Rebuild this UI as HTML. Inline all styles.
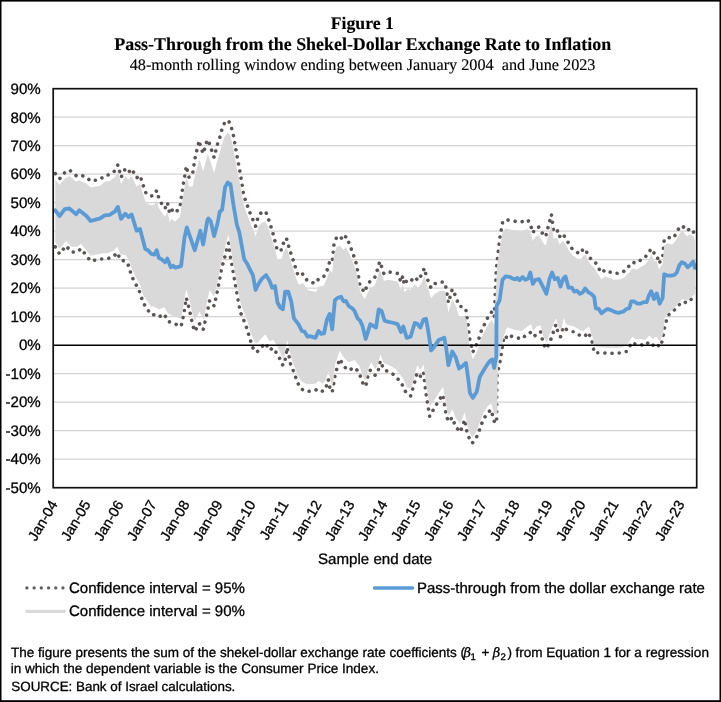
<!DOCTYPE html>
<html lang="en">
<head>
<meta charset="utf-8">
<title>Figure 1 - Pass-Through from the Shekel-Dollar Exchange Rate to Inflation</title>
<style>
html,body{margin:0;padding:0;background:#fff;}
body{width:721px;height:702px;overflow:hidden;}
svg{display:block;will-change:transform;text-rendering:geometricPrecision;}
text{stroke:#000;stroke-width:0.3px;stroke-linejoin:round;}
.ttl text{stroke-width:0.14px;}
</style>
</head>
<body>
<svg width="721" height="702" viewBox="0 0 721 702">
<rect x="0" y="0" width="721" height="702" fill="#fff"/>
<line x1="53.2" x2="696.7" y1="459.2" y2="459.2" stroke="#d4d4d4" stroke-width="1.25"/>
<line x1="53.2" x2="696.7" y1="430.7" y2="430.7" stroke="#d4d4d4" stroke-width="1.25"/>
<line x1="53.2" x2="696.7" y1="402.2" y2="402.2" stroke="#d4d4d4" stroke-width="1.25"/>
<line x1="53.2" x2="696.7" y1="373.7" y2="373.7" stroke="#d4d4d4" stroke-width="1.25"/>
<line x1="53.2" x2="696.7" y1="316.7" y2="316.7" stroke="#d4d4d4" stroke-width="1.25"/>
<line x1="53.2" x2="696.7" y1="288.2" y2="288.2" stroke="#d4d4d4" stroke-width="1.25"/>
<line x1="53.2" x2="696.7" y1="259.7" y2="259.7" stroke="#d4d4d4" stroke-width="1.25"/>
<line x1="53.2" x2="696.7" y1="231.2" y2="231.2" stroke="#d4d4d4" stroke-width="1.25"/>
<line x1="53.2" x2="696.7" y1="202.7" y2="202.7" stroke="#d4d4d4" stroke-width="1.25"/>
<line x1="53.2" x2="696.7" y1="174.2" y2="174.2" stroke="#d4d4d4" stroke-width="1.25"/>
<line x1="53.2" x2="696.7" y1="145.7" y2="145.7" stroke="#d4d4d4" stroke-width="1.25"/>
<line x1="53.2" x2="696.7" y1="117.2" y2="117.2" stroke="#d4d4d4" stroke-width="1.25"/>
<path d="M55.3 173.7 L59.6 178.8 L64.8 172.5 L69.4 169.9 L76.2 175.6 L79.2 174.5 L86.5 177.2 L90.6 181.1 L100.1 179.5 L104.7 175.4 L109.7 174.7 L115 170.7 L117.9 164.8 L121.1 177.4 L125.2 169 L128.6 172.4 L131.6 168.8 L136.6 177.9 L140 175.5 L145.3 192.1 L148 195.1 L151.4 196 L154.4 195.1 L156.7 190.5 L158.9 198.5 L161.7 203.7 L165.1 208.5 L167.4 202.5 L169.7 213.6 L170.8 211.4 L171.9 209.9 L173.1 211.3 L174.9 213 L179.9 207.8 L181.1 198.8 L183.3 184.3 L184.5 177.8 L186.3 166 L189 177.3 L192.5 174.5 L194.7 160.1 L195.9 154.3 L199.3 140.5 L200.4 146 L203.2 153.7 L207.3 139.7 L208.4 140.5 L210.7 147.5 L214.1 157.5 L217.5 144.1 L219.8 137.5 L221 133 L222.1 128.5 L224.4 123.3 L227.8 120.1 L230.5 123.9 L233.5 135.8 L236.9 155.4 L239.2 167.8 L240.3 173.3 L241.5 180.7 L243.7 195.4 L247.2 205 L249.9 212.6 L252.9 219.7 L255.6 226.2 L258.6 215.2 L262 212.1 L265.4 211.3 L267.7 216.3 L269.5 222.3 L271.1 227.2 L272.2 230.7 L274.5 239.1 L277.5 251 L280.2 250 L281.4 249.9 L282.9 244 L285.2 240.9 L286.4 238.1 L288.2 244.8 L289.3 248.3 L291.2 254.3 L292.7 258.8 L293.9 261.9 L296.2 270.4 L298.4 276 L301.9 274.6 L303 274 L304.6 276.7 L307.6 281.1 L309.8 281.9 L315.5 283.4 L318.5 279.1 L321.2 277.3 L323.5 277.1 L326.9 270.8 L329.7 261.8 L332.2 262.7 L334 244.1 L334.9 242.8 L336.7 236.8 L337.6 236.7 L339.9 236.2 L341.1 237.8 L343.6 240.3 L345.9 236.3 L348.6 242.1 L349.7 244.7 L352 250.8 L353.1 253.7 L354.3 257.6 L356.6 264.7 L357.7 271.4 L360 285.5 L362.3 289.3 L364.6 292.4 L365.7 288.8 L370.3 280.7 L374.8 277.5 L376 273.2 L377.8 268.8 L378.7 265.8 L379.6 261.5 L381.7 266.9 L383.9 273.7 L388.5 271.7 L391.9 272.6 L393 272.9 L397.6 273.4 L401 281.9 L402.8 276 L404.4 285 L406.7 280.9 L407.9 279.6 L410.6 281.1 L414.7 276.9 L417 279.5 L418.1 280.6 L420.4 276.5 L421.5 275.3 L423.4 270.8 L424.3 268.1 L426.1 275.4 L427.2 278.6 L428.4 281.5 L431.1 288 L434.1 284.7 L435.2 283.5 L438.6 282.5 L439.8 281.9 L444.3 282.2 L446.2 288.4 L448.4 302.8 L452.3 289.1 L455.7 296.2 L459.1 306.2 L462.6 306.7 L463.7 306.9 L466 310.4 L468.3 326.4 L469.4 337.6 L472.8 352.2 L476.7 344.1 L479.7 336.3 L480.8 332.1 L483.1 327.4 L484.2 325 L486.5 320.3 L487.6 317.9 L489.9 314.7 L491.7 312 L494.2 317.2 L496.3 269.1 L499.6 239.3 L502.5 222.8 L505.5 219.4 L509.4 220.4 L510.5 220.6 L512.8 220.9 L515.5 221.4 L517.4 221.8 L519.6 221.4 L521.9 221.8 L525.3 220.3 L527.6 219.7 L530.3 224 L532.8 232.9 L535.6 228.2 L539 227 L540 229.4 L543.4 234.9 L545.7 236.7 L548.7 224.9 L549.6 221.7 L551.4 214.4 L553.7 231.6 L554.8 230.6 L557.1 229.9 L559.4 237.1 L560.5 235.1 L562.8 233.6 L565.5 238.1 L568.5 243 L571.9 248.4 L574.2 249.7 L576.5 251.9 L579.9 254 L582.8 249.6 L585.1 248.6 L588.3 255.7 L591.3 259.5 L594.2 262.4 L595.8 263.1 L598.1 267.5 L601.5 272.9 L605 269.9 L607.9 271.3 L611.8 272.8 L614.1 273.7 L615.2 273.5 L618.6 273.1 L620.9 273.1 L623.2 271.7 L624.3 271.2 L626.6 268.8 L628.9 266.2 L631.2 263.9 L632.3 262.1 L633.9 262.6 L636.9 263.1 L640.3 260.3 L643.7 258.6 L644.8 257.9 L646.7 255 L648.3 253.3 L651.2 248.7 L654 253 L656.7 254.1 L659 263.5 L662.6 257.3 L664.2 240.2 L667.6 237.2 L671.1 238.2 L672.2 238.6 L674.5 236 L675.6 234.8 L676.8 232.3 L679 228.1 L681.8 225.6 L684.7 228 L687 230.8 L690.4 228.3 L693.2 231.2 L694.9 235.9" fill="none" stroke="#5c5555" stroke-width="3.6" stroke-linecap="round" stroke-linejoin="round" stroke-dasharray="0.01 7.2"/>
<path d="M55.3 246.9 L59.6 254 L64.8 247.4 L66 245.8 L69.4 249.8 L71.7 252.2 L76.2 251.6 L77.4 251.8 L79.2 250.4 L80.8 248.6 L86.5 255.8 L90.6 261.1 L95.6 260 L100.1 259.1 L101.3 259 L104.7 258.9 L108.1 258.6 L109.7 257.8 L113.8 256.4 L115 255 L117.2 252.5 L120.7 260.3 L125.2 260.9 L128.6 265.6 L131.6 276.2 L136.6 285.8 L140 292.6 L143.4 303.8 L145.3 305.5 L146.9 307.9 L148 310 L150.3 314 L151.4 314.1 L154.4 314.9 L156.7 316.7 L158.9 316.8 L161.7 315.6 L164 314 L165.1 315.8 L167.4 320.3 L168.5 321.8 L170.8 322 L173.1 323.3 L174.2 323.7 L175.4 324 L181.1 326.4 L183.3 316.1 L184.5 309.5 L186.3 297.8 L189.5 310 L192.5 324.5 L194.7 331.4 L199.3 323.2 L200.4 326.1 L203.2 329.6 L207.3 312.2 L208.4 306.6 L209.6 300.5 L210.7 302.2 L214.1 305.9 L217.5 290.7 L219.8 278.5 L221 271.7 L222.1 266.6 L224.4 258.7 L227.8 244.5 L228.7 243.1 L230.5 257.3 L233.5 273.8 L236.9 293.1 L239.2 306.1 L240.3 312.2 L241.5 314.7 L243.7 319.8 L247.2 329.3 L249.9 338.9 L252.9 347.7 L254 350.2 L255.6 350.3 L257 352 L258.6 350.3 L260.8 347.8 L262 346.7 L265.4 343.2 L269.5 350.3 L272.2 348.3 L273.4 348.1 L275 351.3 L276.8 353 L280.2 359.4 L281.4 361.9 L282.9 365.4 L285.2 359.3 L287.1 347.4 L288.2 352.6 L289.3 357.3 L290.7 365 L293.9 372 L297.5 382.5 L298.4 384.2 L301 388.9 L301.9 389.2 L304.6 391 L305.5 391.4 L307.6 391.1 L309.8 391.4 L311.2 391.4 L315.5 390.2 L318.5 388.8 L321.2 390.2 L322.6 391.3 L324 389.6 L325.6 388.6 L326.9 384.3 L328.3 379.5 L329.7 387 L330.6 390.8 L332.2 392.1 L334.9 376.4 L337.6 365.8 L339.7 358.8 L341.1 361.5 L343.6 365.6 L345.9 368.3 L348.6 370.4 L352 368.8 L354.3 367.4 L357.7 370.7 L359.1 372.5 L360 375.2 L362.3 381.8 L363.6 385.2 L365.7 386.4 L368.2 374.7 L370.3 370.2 L375 375.3 L376 374.2 L377.3 374 L378.7 368.6 L380.3 360.8 L381.7 364.4 L384.1 369.9 L388.5 371.5 L389.8 372.1 L391.9 373.5 L395.5 375.8 L397.6 378.7 L400.1 381.4 L401 382.5 L403.3 386.9 L406.7 394.1 L410.6 395.9 L414.7 382.2 L417 372.8 L420.4 376.2 L423.4 371.6 L426.1 394.2 L428.4 408.4 L429.7 416.4 L431.1 412.9 L433.1 410.2 L434.1 408.5 L436.6 404.3 L438.6 401.2 L441.1 397.1 L443.2 394.6 L444.3 403.2 L446.2 415.4 L448.4 421.6 L452.3 417.5 L455.7 427.1 L459.1 430.3 L460.3 432.1 L462.6 425.8 L464.8 419.6 L466 426.9 L467.1 432.9 L468.3 435.9 L469.4 438.6 L472.1 443.2 L476.2 438.1 L479.7 429.4 L483.1 419.8 L486.5 414.7 L487.6 413 L489.9 410.8 L491.1 409.6 L492.2 414 L494.4 422 L496.7 423 L496.8 392 L497.2 374 L499.2 365.6 L500.6 358.5 L501.6 351.4 L502.6 345 L503.8 338 L505.5 339.7 L507.2 334.8 L509.4 335.6 L512.8 336.7 L515.1 337.5 L517.4 338.1 L519.6 338.2 L521.9 339 L525.3 335.6 L527.6 333.6 L530.3 332.5 L532.8 336.6 L535.6 335.3 L536.7 333.5 L539 332.8 L540.6 331.8 L543.4 344.1 L546.4 348.9 L549.6 342.8 L552.1 336 L554.8 327.5 L556 324.5 L557.8 331.9 L560.5 336.8 L563.2 326.8 L565.5 329 L568.5 330.6 L569.6 331 L571.9 331.7 L574.2 331.7 L576.9 333.8 L579.9 335.3 L582.8 336.7 L585.1 335.8 L588.3 332.3 L591.3 339.2 L592.4 343 L594.2 352.4 L595.8 351.9 L597 352.8 L598.8 352.8 L601.5 352.4 L605 353 L607.9 353.5 L611.8 353.3 L615.2 353 L618.6 352.9 L619.8 353 L623.2 352 L626.6 351.4 L629.3 346.5 L631.2 344.1 L632.3 342.1 L633.9 343.3 L635.7 344.5 L637.5 344.3 L640.3 344.3 L643.7 345.6 L644.8 345.9 L646.7 343.8 L648.9 342.1 L651.2 344.4 L652.8 345.5 L654 344.1 L656.2 343.1 L659.7 347 L662.6 340.2 L664.2 328.7 L667.6 316.1 L668.8 314.6 L671.1 312.9 L673.3 311.2 L674.5 309.8 L676.8 307.2 L677.9 306 L679.5 304.4 L681.8 301.9 L684.7 302.1 L687 303 L690.4 299.9 L691.6 298.9 L693.2 297.5 L694.9 295.5" fill="none" stroke="#5c5555" stroke-width="3.6" stroke-linecap="round" stroke-linejoin="round" stroke-dasharray="0.01 7.2"/>
<path d="M55.3 179.5 L59.6 184.8 L64.8 178.4 L69.4 176.1 L76.2 181.8 L79.2 180.2 L86.5 183.4 L90.6 187.5 L100.1 185.7 L104.7 181.8 L109.7 181.1 L115 177.2 L117.9 171.5 L121.1 184.1 L125.2 176.1 L128.6 179.5 L131.6 176.1 L136.6 186.4 L140 184.1 L145.3 201.2 L148 203.9 L151.4 205.3 L154.4 204.6 L156.7 200 L158.9 208 L161.7 212.6 L165.1 217.1 L167.4 211.4 L169.7 221.7 L171.9 218.9 L174.9 221.7 L179.9 217.1 L183.3 194.3 L186.3 176.1 L189 186.4 L192.5 186.4 L195.9 171.5 L199.3 159 L203.2 171.5 L207.3 155.6 L207.7 154 L210.7 162 L214.1 172.9 L217.5 159.7 L221 148.3 L224.4 136.9 L227.8 132.4 L230.5 135.8 L233.5 149.4 L236.9 168.8 L240.3 184.8 L243.7 205.3 L247.2 214.4 L250.6 223.5 L253.3 229.6 L255.6 236.4 L258.6 226.1 L262 222.7 L265.4 221.6 L267.7 226.1 L271.1 236.4 L274.5 246.7 L277.5 259.2 L281.4 259.2 L283.6 252.4 L286.4 246.7 L289.3 255.8 L292.7 267.2 L296.2 278.6 L298.9 284.7 L303 283.1 L307.6 290 L316 292.2 L319 286.5 L323.5 286.1 L326.9 278.6 L329.9 269.4 L332.2 273.3 L334 254.6 L336.7 246.7 L339.9 246 L343.6 250.1 L345.9 246.7 L349.7 254.6 L353.1 262.6 L356.6 272.9 L360 291.1 L364.6 299.1 L370.3 287.7 L374.8 285.4 L377.8 276.3 L379.6 269.2 L381.7 274 L383.9 280.8 L388.5 279.7 L393 280.8 L397.6 281.5 L401 290 L402.8 284.3 L404.4 292.2 L407.9 288.8 L410.6 290 L414.7 284.3 L418.1 287.7 L421.5 283.1 L424.3 276.3 L427.2 286.1 L431.1 297.9 L435.2 293.4 L439.8 291.1 L444.8 291.1 L446.6 300.2 L448.4 312.7 L452.3 299.1 L455.7 305.9 L459.1 316.2 L463.7 316.2 L466.7 319.6 L469.4 345.8 L472.8 359.5 L477.4 350.4 L480.8 339 L484.2 332.1 L487.6 325.3 L491.7 319.6 L494.2 325.3 L497.1 266.5 L499.6 249 L502.5 231.9 L505.5 228.5 L510.5 229.6 L516.2 230.8 L521.9 230.8 L527.6 229.2 L530.6 231.9 L532.8 241 L535.6 236.5 L539 235.3 L540 237.6 L543.4 243.3 L545.7 245.6 L548.7 234.2 L551.4 223.9 L553.7 238.7 L557.1 237.6 L559.4 244.4 L562.8 241 L565.8 244.4 L568.5 250.1 L571.9 254.7 L576.5 258.1 L579.9 260.4 L583.3 255.8 L585.6 254.7 L588.3 261.5 L591.3 265 L594.7 268.4 L598.1 274.1 L601.5 279.3 L605 276.4 L608.4 277.5 L614.1 279.8 L620.9 279.3 L624.3 277.5 L628.9 272.9 L632.3 268.4 L636.9 269.5 L640.3 267.2 L644.8 265 L648.3 260.4 L651.7 254.7 L654.4 261.5 L656.7 260.4 L659 269.5 L662.6 263.8 L664.2 245.6 L667.6 243.3 L672.2 244.4 L675.6 241 L679 234.2 L682.5 230.8 L687 236.5 L690.4 234.2 L693.8 236.5 L694.9 241 L694.9 293.9 L691.6 296.9 L687 301 L682.5 298.9 L677.9 303.9 L673.3 309.2 L668.8 312.4 L664.9 316.7 L663.1 334.5 L659.7 341.3 L656.2 336.8 L652.8 339 L649.4 335.6 L644.8 340.2 L640.3 339 L635.7 339 L632.3 336.8 L626.6 345.9 L619.8 347.7 L608.4 347.7 L597 347 L594.2 345.2 L592.4 336.8 L589 326.5 L583.3 331.1 L579.9 329.9 L574.2 326.5 L569.6 325.4 L566.2 324.2 L563.9 317.4 L561 331.1 L558.2 326.5 L556 318.5 L552.5 326.5 L549.6 334.5 L546.8 342.5 L543.4 336.8 L540.6 325.4 L536.7 326.5 L533.3 331.1 L531 324.2 L527.6 326.5 L521.9 331.1 L515.1 329.9 L507.2 327.2 L503.8 335.6 L502.4 344 L501 348 L499 358.5 L498 368 L497.6 383 L497.3 414.8 L494.2 413.4 L491.1 403.2 L487.6 406.6 L483.1 413.4 L479.7 422.6 L476.2 432.1 L472.1 437.2 L469.4 432.1 L467.1 424.8 L464.8 412.3 L460.3 423.7 L455.7 418 L452.3 408.9 L448.9 415.7 L446.2 406.6 L443.2 387.2 L441.1 389.5 L436.6 396.4 L433.1 402.1 L429.7 406.6 L426.3 386.1 L423.6 364.4 L420.6 370.1 L417.2 365.6 L414.9 373.6 L411.5 388.4 L406.9 387.2 L403.5 379.3 L400.1 374.7 L395.5 369 L389.8 365.6 L384.1 363.3 L380.3 354.2 L377.3 366.7 L375 369 L371.2 362.2 L368.2 369 L365.9 380.4 L363.6 378.1 L359.1 365.6 L354.5 359.9 L348.8 362.2 L343.8 357.6 L339.7 350.8 L335.1 364.4 L332.9 385 L330.6 381.5 L328.3 371.3 L325.6 380.4 L322.6 383.8 L318.7 381.1 L315.8 383.4 L311.2 384.3 L305.5 383.8 L301 381.1 L297.5 374.7 L294.1 365.6 L290.7 356.5 L289.3 349.2 L287.1 340.1 L283.6 359.5 L281.4 354.9 L276.8 345.8 L273.4 340.1 L269.5 341.2 L265.4 334.4 L260.8 339 L257 343.5 L254 341.2 L250.6 332.1 L247.2 320.7 L243.7 311.6 L240.3 302.5 L236.9 284.3 L233.5 264.9 L230.5 247.8 L228.7 235.3 L227.8 236.4 L224.4 250.1 L221 263.7 L217.5 282 L214.1 296.8 L209.6 290 L207.3 300.3 L203.8 319.7 L199.3 311.7 L194.7 320.8 L192.5 314 L189.5 300.3 L186.3 288.9 L183.3 307.1 L181.1 318.5 L174.2 316.2 L168.5 314 L164 307.1 L159.4 309.4 L154.8 307.1 L150.3 306 L146.9 300.3 L143.4 295.7 L140 284.3 L136.6 278.6 L132.1 269.5 L128.6 259.3 L125.2 254.7 L120.7 254.7 L117.2 246.7 L113.8 250.6 L108.1 252.9 L101.3 253.6 L95.6 254.7 L90.6 255.8 L86.5 250.6 L80.8 243.8 L77.4 246.7 L71.7 246.7 L66 241 L59.6 249 L55.3 242.2 Z" fill="#d9d9d9"/>
<line x1="53.2" x2="696.7" y1="345.2" y2="345.2" stroke="#000" stroke-width="1.6"/>
<path d="M55.3 210.3 L59.6 216 L64.8 209.1 L69.4 208.5 L76.2 214.2 L79.2 210.3 L86.5 216 L90.6 221 L100.1 218.3 L104.7 215.3 L109.7 214.8 L115 211.4 L117.9 206.9 L121.1 218.9 L125.2 213.7 L128.6 217.1 L131.6 214.4 L136.6 230.8 L140 229 L145.3 249 L148 250.2 L151.4 254 L154.4 254.7 L156.7 250.2 L158.9 258.1 L161.7 259.3 L165.1 262.3 L167.4 258.6 L170.8 267.3 L173.1 265.7 L175.4 267.7 L181.1 266.1 L184.5 237.6 L186.8 227.4 L194.7 250.2 L200.4 230.8 L203.2 244.5 L207.3 220.5 L208.4 218.5 L210.7 221.2 L214.1 236.1 L217.5 223.5 L219.8 211.7 L222.1 209.8 L225.1 187.1 L227.8 182.5 L230.5 184.3 L233.5 205.3 L236.9 225 L239.2 231.8 L241.5 244.4 L244.2 259.2 L247.2 263.7 L249.9 269.4 L252.9 275.1 L255.6 290 L258.6 283.8 L262 278.6 L266.1 275.1 L269.5 280.8 L272.2 287.7 L275 286.1 L277.5 302.5 L280.2 307.5 L282.9 309.3 L285.2 291.6 L288.2 291.6 L291.2 301.4 L293.9 318.4 L298.4 324.1 L301.9 331 L304.6 331.7 L307.6 336.7 L309.8 336.2 L315.5 337.8 L318.5 331 L321.2 333.9 L324 333.3 L326.9 319.6 L329.7 313.9 L332.2 329.4 L334.9 300.2 L337.6 297.9 L341.1 296.8 L343.6 301.4 L345.9 300.9 L348.6 305.9 L352 308.2 L354.3 310.5 L357.7 318.4 L360 320.7 L362.3 325.3 L365.7 339 L370.3 324.1 L376 327.6 L378.7 309.3 L381.7 311.2 L384.6 320.7 L388.5 321.9 L391.9 322.5 L397.6 324.1 L401 332.1 L403.3 326.4 L406.7 337.8 L410.6 336.7 L414.7 323 L417 323.5 L420.4 327.6 L423.4 319.6 L426.1 318.9 L428.4 332.1 L431.1 350.4 L434.1 346.9 L438.6 340.1 L444.3 337.8 L446.2 348.1 L448.4 365.2 L452.3 351.5 L455.7 357.2 L459.1 368.6 L462.6 365.9 L466 362.9 L468.3 379.3 L469.9 392.9 L472.8 397.9 L476.7 391.8 L479.7 377 L483.1 371.3 L486.5 365.6 L489.9 361 L492.2 359.4 L494.2 367.9 L496.3 356 L496.6 306 L499.6 300.3 L502.5 279.8 L505.5 276.4 L509.4 276.8 L512.8 278.6 L515.5 279.3 L517.4 277.9 L519.6 280.2 L522.6 277 L525.3 279.8 L528.1 278.6 L530.3 272.5 L532.8 283.9 L535.6 279.8 L539 279.1 L543.4 287.7 L546.4 293.9 L549.6 278.6 L552.1 272.5 L554.8 279.3 L557.8 277.9 L560.5 286.6 L563.2 278.6 L565.5 276.4 L568.5 287.7 L571.9 287.7 L574.2 291.6 L576.9 290.7 L579.9 293.9 L582.8 292.3 L585.1 288.4 L588.3 292.3 L591.3 293.9 L594.2 296.9 L595.8 308.3 L598.8 308.9 L601.5 313.3 L605 310.5 L607.9 308.9 L611.8 310.5 L615.2 312.1 L618.6 312.8 L623.2 311.7 L626.6 308.9 L629.3 308.3 L631.2 301.4 L633.9 301.4 L637.5 303.7 L640.3 303.7 L643.7 302.1 L646.7 302.1 L648.9 295.7 L651.2 291.2 L654 299.1 L656.7 293.4 L659.7 303.7 L662.6 298 L664.2 274.1 L667.6 275.7 L671.1 275.7 L674.5 274.8 L676.8 272.5 L679.5 265 L681.8 262.2 L684.7 263.4 L687.7 267.2 L690.4 265 L693.2 261.5 L694.9 267.9" fill="none" stroke="#5b9bd5" stroke-width="3.8" stroke-linejoin="round" stroke-linecap="round"/>
<rect x="53.2" y="88.7" width="643.5" height="399" fill="none" stroke="#111" stroke-width="1.7"/>
<g font-family="'Liberation Sans', Arial, sans-serif" font-size="14.9" fill="#000">
<text x="40.8" y="94" text-anchor="end" font-size="15.1">90%</text>
<text x="40.8" y="122.5" text-anchor="end" font-size="15.1">80%</text>
<text x="40.8" y="150.9" text-anchor="end" font-size="15.1">70%</text>
<text x="40.8" y="179.4" text-anchor="end" font-size="15.1">60%</text>
<text x="40.8" y="207.9" text-anchor="end" font-size="15.1">50%</text>
<text x="40.8" y="236.4" text-anchor="end" font-size="15.1">40%</text>
<text x="40.8" y="264.9" text-anchor="end" font-size="15.1">30%</text>
<text x="40.8" y="293.4" text-anchor="end" font-size="15.1">20%</text>
<text x="40.8" y="321.9" text-anchor="end" font-size="15.1">10%</text>
<text x="40.8" y="350.4" text-anchor="end" font-size="15.1">0%</text>
<text x="40.8" y="378.9" text-anchor="end" font-size="15.1">-10%</text>
<text x="40.8" y="407.4" text-anchor="end" font-size="15.1">-20%</text>
<text x="40.8" y="435.9" text-anchor="end" font-size="15.1">-30%</text>
<text x="40.8" y="464.4" text-anchor="end" font-size="15.1">-40%</text>
<text x="40.8" y="492.9" text-anchor="end" font-size="15.1">-50%</text>
<text transform="translate(58.1 504.2) rotate(-59.3)" text-anchor="end" font-size="14.4">Jan-04</text>
<text transform="translate(91.1 504.2) rotate(-59.3)" text-anchor="end" font-size="14.4">Jan-05</text>
<text transform="translate(124.1 504.2) rotate(-59.3)" text-anchor="end" font-size="14.4">Jan-06</text>
<text transform="translate(157.1 504.2) rotate(-59.3)" text-anchor="end" font-size="14.4">Jan-07</text>
<text transform="translate(190.1 504.2) rotate(-59.3)" text-anchor="end" font-size="14.4">Jan-08</text>
<text transform="translate(223.1 504.2) rotate(-59.3)" text-anchor="end" font-size="14.4">Jan-09</text>
<text transform="translate(256.1 504.2) rotate(-59.3)" text-anchor="end" font-size="14.4">Jan-10</text>
<text transform="translate(289.1 504.2) rotate(-59.3)" text-anchor="end" font-size="14.4">Jan-11</text>
<text transform="translate(322.1 504.2) rotate(-59.3)" text-anchor="end" font-size="14.4">Jan-12</text>
<text transform="translate(355.1 504.2) rotate(-59.3)" text-anchor="end" font-size="14.4">Jan-13</text>
<text transform="translate(388.1 504.2) rotate(-59.3)" text-anchor="end" font-size="14.4">Jan-14</text>
<text transform="translate(421.1 504.2) rotate(-59.3)" text-anchor="end" font-size="14.4">Jan-15</text>
<text transform="translate(454.1 504.2) rotate(-59.3)" text-anchor="end" font-size="14.4">Jan-16</text>
<text transform="translate(487.1 504.2) rotate(-59.3)" text-anchor="end" font-size="14.4">Jan-17</text>
<text transform="translate(520.1 504.2) rotate(-59.3)" text-anchor="end" font-size="14.4">Jan-18</text>
<text transform="translate(553.1 504.2) rotate(-59.3)" text-anchor="end" font-size="14.4">Jan-19</text>
<text transform="translate(586.1 504.2) rotate(-59.3)" text-anchor="end" font-size="14.4">Jan-20</text>
<text transform="translate(619.1 504.2) rotate(-59.3)" text-anchor="end" font-size="14.4">Jan-21</text>
<text transform="translate(652.1 504.2) rotate(-59.3)" text-anchor="end" font-size="14.4">Jan-22</text>
<text transform="translate(685.1 504.2) rotate(-59.3)" text-anchor="end" font-size="14.4">Jan-23</text>
<text x="375.1" y="563.6" text-anchor="middle" font-size="15.1">Sample end date</text>
<text x="68.9" y="593" font-size="15.05">Confidence interval = 95%</text>
<text x="68.9" y="615.9" font-size="15.05">Confidence interval = 90%</text>
<text x="417.0" y="593" font-size="14.98">Pass-through from the dollar exchange rate</text>
</g>
<line x1="26.9" x2="64.9" y1="587.9" y2="587.9" fill="none" stroke="#625c5c" stroke-width="3.3" stroke-linecap="round" stroke-dasharray="0.01 7.2"/>
<line x1="26.9" x2="64.3" y1="611.3" y2="611.3" stroke="#d9d9d9" stroke-width="3.3" stroke-linecap="round"/>
<line x1="374.5" x2="412.5" y1="588" y2="588" stroke="#5b9bd5" stroke-width="3.5" stroke-linecap="round"/>
<g font-family="'Liberation Serif', 'Times New Roman', serif" fill="#000" text-anchor="middle" class="ttl">
<text x="362.3" y="29.1" font-size="17.7" font-weight="bold">Figure 1</text>
<text x="362.7" y="50" font-size="17.92" font-weight="bold">Pass-Through from the Shekel-Dollar Exchange Rate to Inflation</text>
<text x="362.6" y="69.5" font-size="16.23" xml:space="preserve">48-month rolling window ending between January 2004  and June 2023</text>
</g>
<g font-family="'Liberation Sans', Arial, sans-serif" fill="#000">
<text y="657" font-size="13.55"><tspan x="11" font-size="13.49">The figure presents the sum of the shekel-dollar exchange rate coefficients</tspan><tspan x="460.4">(</tspan><tspan x="463.5" font-family="'DejaVu Serif', 'Liberation Serif', serif" font-style="italic" font-size="13">β</tspan><tspan x="470.4" dy="3" font-size="9.6">1</tspan><tspan x="481.6" dy="-3">+</tspan><tspan x="492.8" font-family="'DejaVu Serif', 'Liberation Serif', serif" font-style="italic" font-size="13">β</tspan><tspan x="500.4" dy="3" font-size="9.6">2</tspan><tspan x="507.5" dy="-3">)</tspan><tspan x="515.4">from Equation 1 for a regression</tspan></text>
<text x="10.7" y="672.6" font-size="13.56">in which the dependent variable is the Consumer Price Index.</text>
<text x="11.3" y="691" font-size="13.4">SOURCE: Bank of Israel calculations.</text>
</g>
<rect x="0" y="0" width="721" height="1.6" fill="#000"/>
<rect x="0" y="0" width="1.5" height="702" fill="#000"/>
<rect x="719.5" y="0" width="1.5" height="702" fill="#000"/>
<rect x="0" y="700.2" width="721" height="1.8" fill="#000"/>
</svg>
</body>
</html>
